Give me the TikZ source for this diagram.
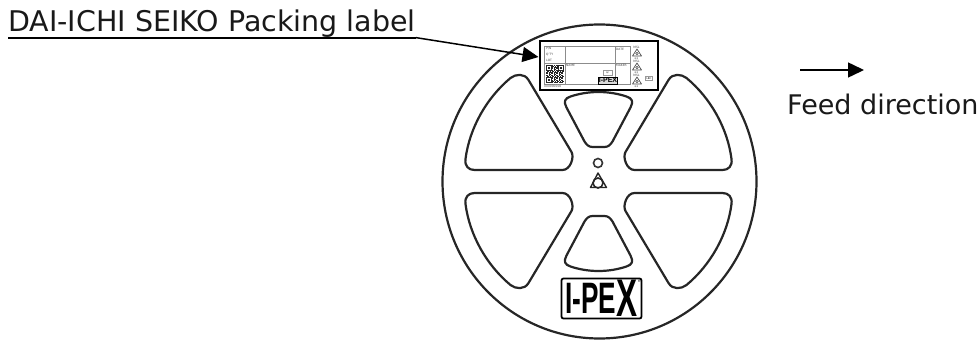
\documentclass[tikz,border=0pt]{standalone}
\usepackage{fontspec}
\setmainfont{DejaVu Sans}
\newfontfamily\logofont{Liberation Sans}
\usetikzlibrary{arrows.meta}

\begin{document}
\begin{tikzpicture}[x=1pt,y=-1pt]
\tikzset{reelline/.style={draw=black!85,line width=2.2pt,line join=round},
  tablecell/.style={draw=black!45,line width=0.8pt},
  tinytext/.style={font=\fontsize{3}{3}\selectfont,inner sep=0pt,text=black!70},
  pointer/.style={draw=black,line width=1.5pt,-{Triangle[length=16pt,width=15pt]}},
  caption/.style={font=\fontsize{28.5}{30}\selectfont,inner sep=0pt,text=black!90}}
\useasboundingbox (0,0) rectangle (980,340);

% reel
\draw [reelline] (599.5,181.5) circle (157);
\begin{scope}[shift={(598.5,181.5)}]
\foreach \sx/\sy in {1/1,-1/1,1/-1,-1/-1}{
  \draw [reelline,xscale=\sx,yscale=\sy] (-36,-11.5) -- (-124,-11.5) .. controls (-130,-11.5) and (-134,-15.5) .. (-133,-22.5) .. controls (-129,-53.5) and (-112,-83.5) .. (-88,-103.5) .. controls (-83,-107.5) and (-74,-108.5) .. (-70,-101.5) -- (-27,-29.5) .. controls (-24,-24.5) and (-28,-11.5) .. (-36,-11.5) -- cycle;
}
\foreach \sy in {1,-1}{
  \draw [reelline,yscale=\sy] (-6,34.5) -- (6,34.5) .. controls (10,34.5) and (12,37) .. (14,40) -- (32,74) .. controls (35,80) and (34,83) .. (28,85) .. controls (10,91) and (-10,91) .. (-28,85) .. controls (-34,83) and (-35,80) .. (-32,74) -- (-14,40) .. controls (-12,37) and (-10,34.5) .. (-6,34.5) -- cycle;
}
\end{scope}

% hub
\draw [black!80,line width=1.6pt] (598,163) circle (4.5);
\draw [black!85,line width=1.6pt] (598,183) circle (5);
\draw [black!85,line width=1.4pt,line join=round] (598,173) -- (590.5,187.5) -- (606.5,187.5) -- cycle;

% logo
\node [draw=black,line width=1.8pt,rounded corners=2pt,minimum width=80pt,minimum height=40pt,inner sep=0pt] (logobox) at (601.5,298.5) {};
\node [font=\logofont\bfseries\fontsize{44}{44}\selectfont,xscale=.595,inner sep=0pt] (logotext) at (601.5,298.5) {I-PE\raisebox{-3pt}{\fontsize{53}{53}\selectfont X}};
\node [font=\fontsize{3.5}{3.5}\selectfont,inner sep=0pt] (logomark) at (639.3,281.5) {®};

% packing label
\node [draw=black,fill=white,line width=2pt,minimum width=118pt,minimum height=49pt,inner sep=0pt] (labelbox) at (598.5,65.5) {};
\draw [tablecell] (544,46) rectangle (630,84);
\draw [tablecell] (544,63) -- (630,63);
\draw [tablecell] (565,46) -- (565,84);
\draw [tablecell] (615,46) -- (615,84);
\node [tinytext,anchor=west] (pn) at (546,49) {P/N};
\node [tinytext,anchor=west] (qty) at (546,55) {Q'TY};
\node [tinytext,anchor=west] (lot) at (546,60) {LOT};
\node [tinytext,anchor=west] (date) at (616,49) {DATE};
\node [tinytext,anchor=west] (maker) at (616,65) {MAKER};
\node [tinytext,anchor=west] (name) at (566,65) {NAME};
\node [tinytext,anchor=west] (serial) at (544,86.5) {000000000};

% qr code
\foreach \i in {0,...,17}{
  \foreach \j in {0,...,17}{
    \pgfmathparse{int(mod(\i*\i*\j+\j*\j*3+\i*7,5))}
    \ifnum\pgfmathresult<3
      \fill [black!85] (546+\i,65+\j) rectangle ++(1,1);
    \fi
  }
}
\foreach \qx/\qy in {546/65,558/65,546/77}{
  \fill [black!85] (\qx,\qy) rectangle ++(6,6);
  \fill [white] (\qx+1,\qy+1) rectangle ++(4,4);
  \fill [black!85] (\qx+2,\qy+2) rectangle ++(2,2);
}

% small logo and stamp box
\node [draw=black!40,line width=0.5pt,minimum width=9pt,minimum height=5pt,inner sep=0pt,font=\fontsize{2}{2}\selectfont] (stampbox) at (607.5,72.5) {QC};
\node [draw=black,fill=black!15,line width=1pt,minimum width=14pt,minimum height=7pt,inner sep=0pt,font=\logofont\bfseries\fontsize{7}{7}\selectfont] (smalllogo) at (608,80.5) {I-PEX};
\node [draw=black!40,line width=0.5pt,minimum width=7pt,minimum height=4pt,inner sep=0pt,font=\fontsize{2.5}{2.5}\selectfont] (lbcbox) at (649,78.5) {LBC};

% caution marks
\foreach \my in {53,67,81}{
  \draw [black!70,line width=0.7pt,line join=round] (637,\my-4) -- (632.5,\my+3) -- (641.5,\my+3) -- cycle;
  \draw [black!70,line width=0.5pt] (637,\my+0.5) circle (1.3);
  \node [tinytext] at (636.5,\my-6) {MSL};
  \node [tinytext] at (636.5,\my+5.5) {e1};
}

% captions
\node [caption,anchor=base west] (packing) at (8,31.5) {DAI-ICHI SEIKO Packing label};
\draw [black,line width=2pt] (packing.south west) -- (packing.south east);
\draw [pointer] (packing.south east) -- ([yshift=8.5pt]labelbox.west);

\coordinate (feedstart) at (800,70);
\coordinate (feedend) at (864,70);
\draw [pointer] (feedstart) -- (feedend);
\node [caption,anchor=base west,font=\fontsize{27}{28}\selectfont] (feed) at (787,114) {Feed direction};

\end{tikzpicture}
\end{document}
